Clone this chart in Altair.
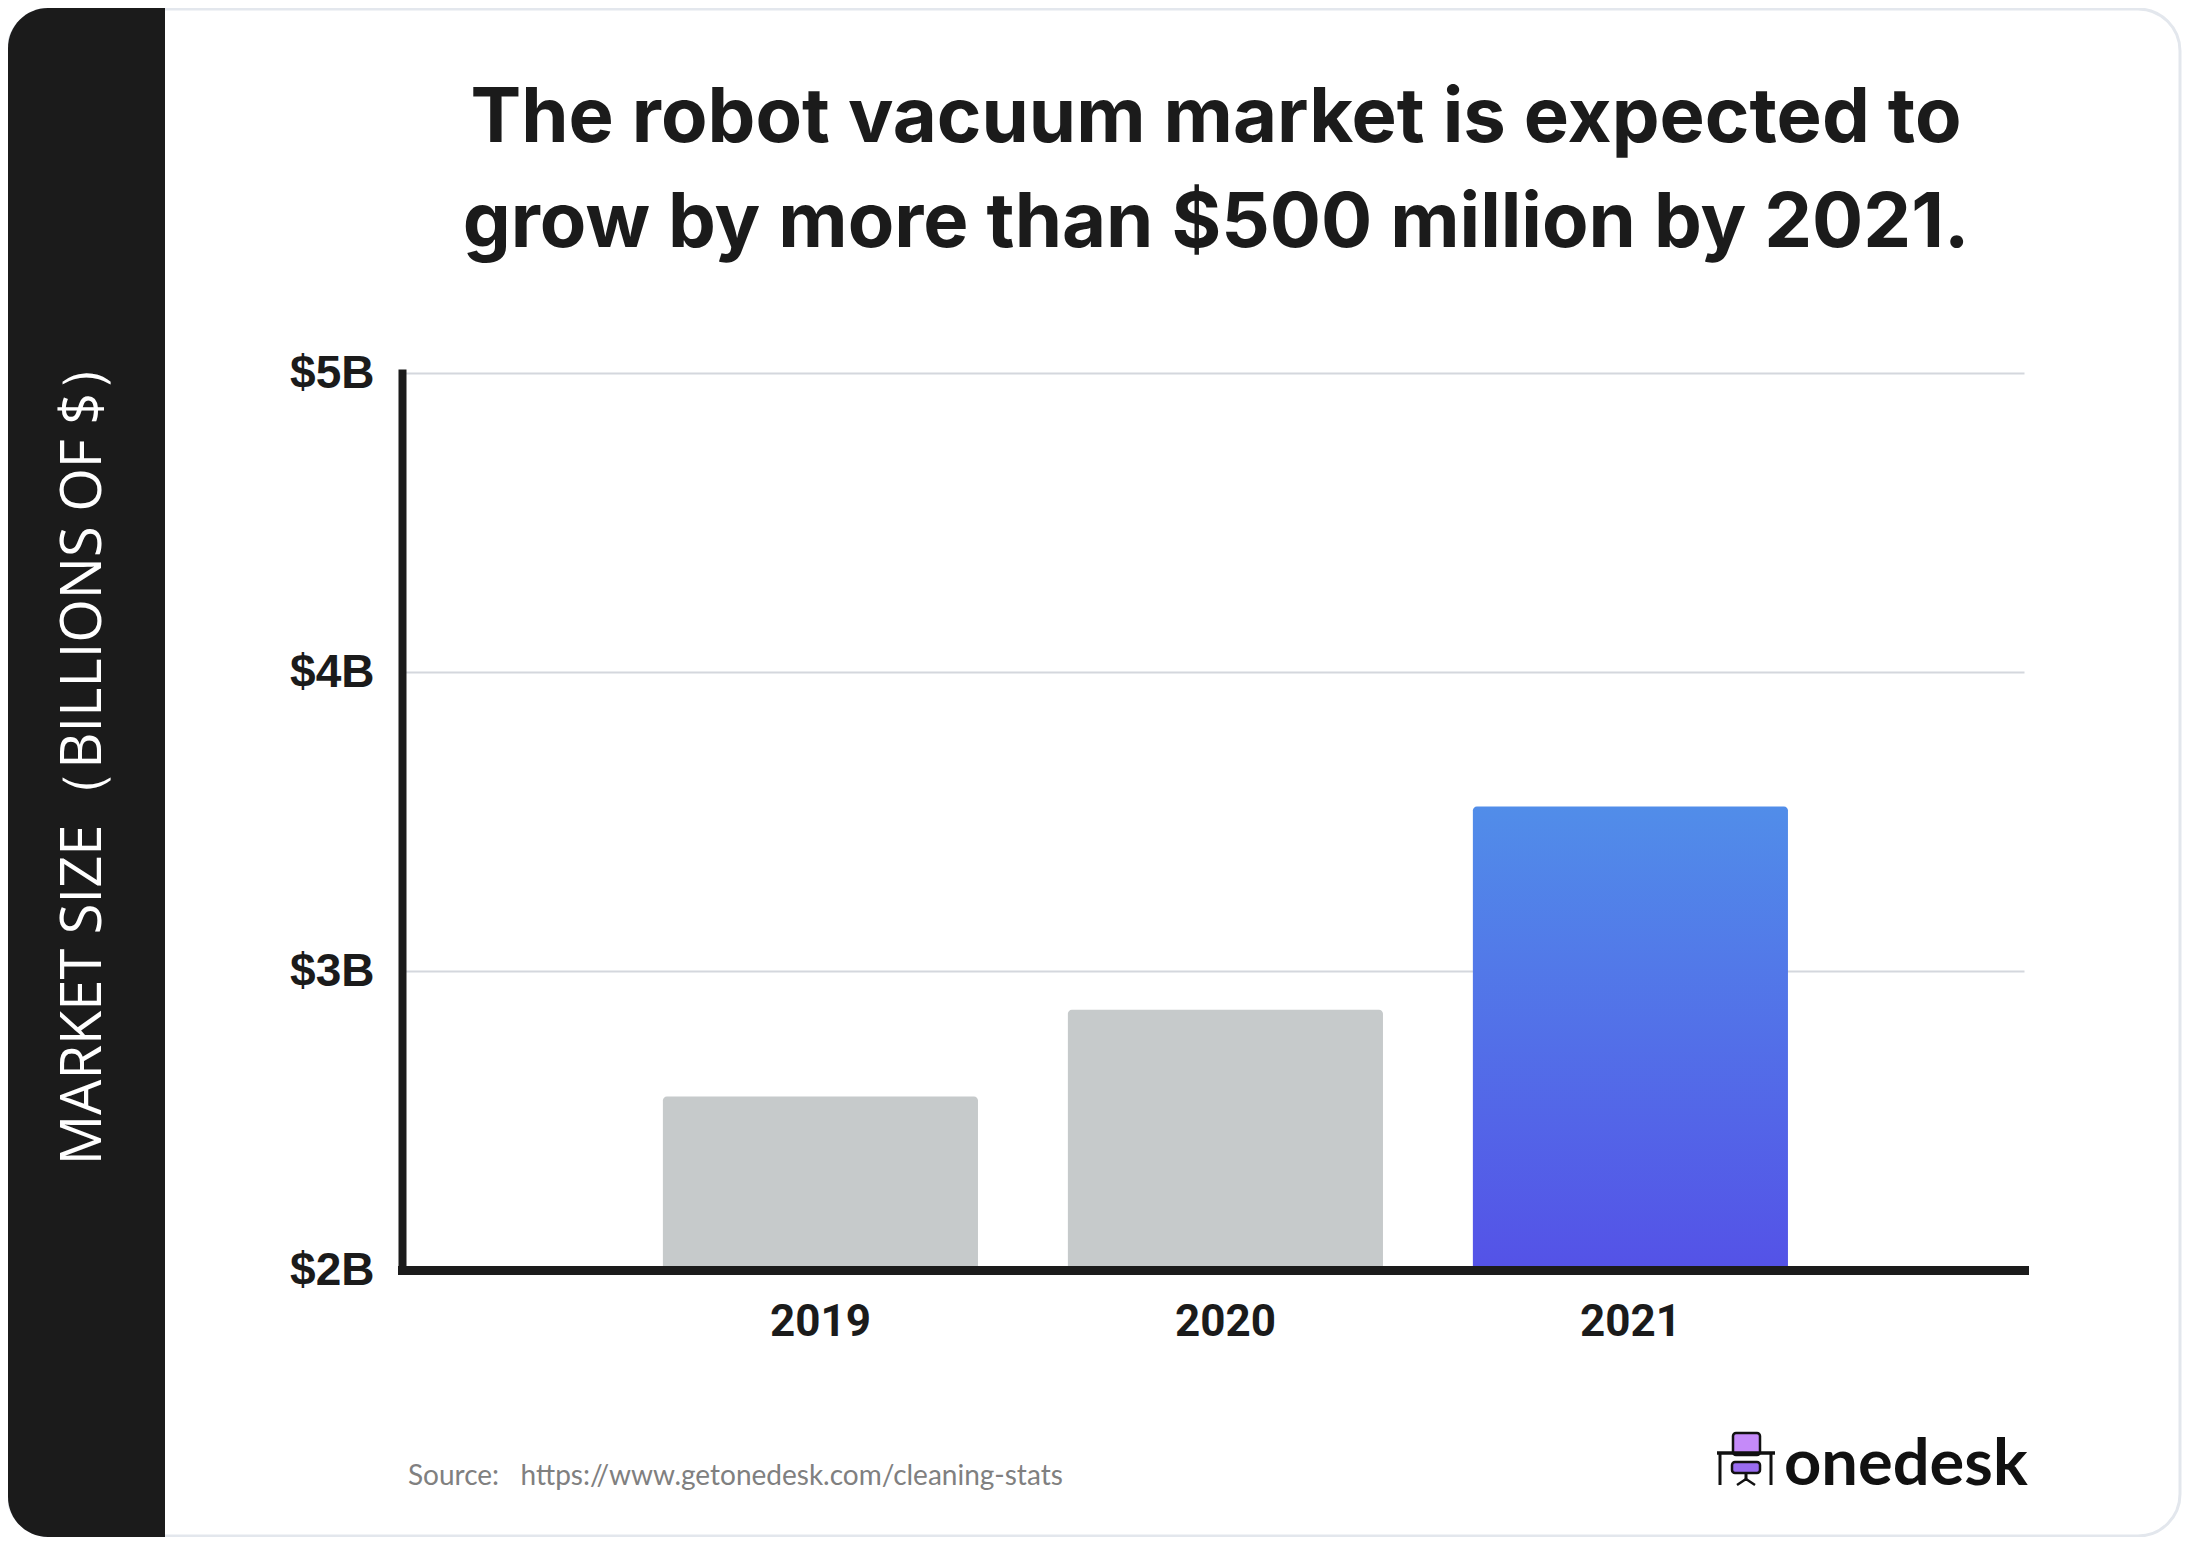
import altair as alt
import pandas as pd

# ---- data ----
years = ["2019", "2020", "2021"]
market_size = [2.58, 2.87, 3.55]
highlight = [False, False, True]
y_ticks = [2, 3, 4, 5]
title_lines = ["The robot vacuum market is expected to",
               "grow by more than $500 million by 2021."]
y_title = "MARKET SIZE（BILLIONS OF $）"
source_text = "Source:\u00a0\u00a0 https://www.getonedesk.com/cleaning-stats"
brand = "onedesk"

df = pd.DataFrame({"year": years, "size": market_size, "hl": highlight})
one = alt.Data(values=[{"k": 1}])

# ---- layout (view = plot area) ----
W, H = 1622, 897
PAD = {"left": 394, "top": 365, "right": 158, "bottom": 267}
DARK = "#1b1b1b"

x_enc = alt.X(
    "year:N", sort=years,
    scale=alt.Scale(paddingInner=0.222, paddingOuter=0.6135, align=0.525),
    axis=alt.Axis(title=None, labelAngle=0, labelFont="Roboto", labelFontWeight="bold",
                  labelFontSize=44, labelColor=DARK, labelPadding=30, ticks=False,
                  domainColor=DARK, domainWidth=9, domainCap="square", zindex=1, grid=False),
)
y_enc = alt.Y(
    "size:Q",
    scale=alt.Scale(domain=[2, 5], nice=False, zero=False),
    axis=alt.Axis(title=None, values=y_ticks, labelExpr="'$' + datum.value + 'B'",
                  labelFont="Liberation Sans", labelFontWeight="bold", labelFontSize=46,
                  labelColor=DARK, labelPadding=28, ticks=False, labelBaseline="middle",
                  domainColor=DARK, domainWidth=8, domainCap="square",
                  grid=True, gridColor="#d4d7dd", gridWidth=2, zindex=0),
)

base = alt.Chart(df).encode(x=x_enc, y=y_enc, y2=alt.datum(2))

gray_bars = base.transform_filter("!datum.hl").mark_bar(
    color="#c6cacb", cornerRadiusTopLeft=4, cornerRadiusTopRight=4)

grad = alt.Gradient(gradient="linear", x1=0, x2=0, y1=0, y2=1,
                    stops=[alt.GradientStop(color="#518de9", offset=0),
                           alt.GradientStop(color="#5452e7", offset=1)])
hl_bar = base.transform_filter("datum.hl").mark_bar(
    color=grad, cornerRadiusTopLeft=4, cornerRadiusTopRight=4)

# ---- decorations ----
border = alt.Chart(one).mark_rect(
    fill="#ffffff", fillOpacity=0, stroke="#e3e7ed", strokeWidth=3, cornerRadius=42).encode(
    x=alt.value(-394), x2=alt.value(1778), y=alt.value(-364), y2=alt.value(1163))

band = alt.Chart(one).mark_rect(
    color=DARK, cornerRadiusTopLeft=40, cornerRadiusBottomLeft=40).encode(
    x=alt.value(-394), x2=alt.value(-237), y=alt.value(-365), y2=alt.value(1164))

ytitle = alt.Chart(one).mark_text(
    text=y_title, angle=270, align="center", baseline="middle", color="white",
    font="Open Sans", fontSize=56).encode(x=alt.value(-318), y=alt.value(378))

title = alt.Chart(one).mark_text(
    text=title_lines, align="center", baseline="alphabetic", lineHeight=105,
    color=DARK, font="Inter", fontWeight=700, fontSize=76).encode(
    x=alt.value(814), y=alt.value(-231))

source = alt.Chart(one).mark_text(
    text=source_text, align="left", baseline="alphabetic", color="#808080",
    font="Lato", fontSize=28).encode(x=alt.value(6), y=alt.value(1112))

logo_text = alt.Chart(one).mark_text(
    text=brand, align="left", baseline="alphabetic", color="#111111",
    font="Lato", fontWeight="bold", fontSize=65).encode(x=alt.value(1382), y=alt.value(1112))

chair_back = alt.Chart(one).mark_rect(
    fill="#c58af9", stroke="#111111", strokeWidth=2.5, cornerRadius=3).encode(
    x=alt.value(1331), x2=alt.value(1358), y=alt.value(1060), y2=alt.value(1082))
desk_top = alt.Chart(one).mark_rule(color="#111111", strokeWidth=3.5).encode(
    x=alt.value(1315), x2=alt.value(1373), y=alt.value(1080))
leg_l = alt.Chart(one).mark_rule(color="#111111", strokeWidth=3).encode(
    x=alt.value(1318), y=alt.value(1080), y2=alt.value(1112))
leg_r = alt.Chart(one).mark_rule(color="#111111", strokeWidth=3).encode(
    x=alt.value(1369), y=alt.value(1080), y2=alt.value(1112))
seat = alt.Chart(one).mark_rect(
    fill="#9a6cf0", stroke="#111111", strokeWidth=2.5, cornerRadius=3).encode(
    x=alt.value(1330), x2=alt.value(1358), y=alt.value(1089), y2=alt.value(1100))
stem = alt.Chart(one).mark_rule(color="#111111", strokeWidth=3).encode(
    x=alt.value(1344), y=alt.value(1100), y2=alt.value(1108))
foot_l = alt.Chart(one).mark_rule(color="#111111", strokeWidth=2.5).encode(
    x=alt.value(1344), x2=alt.value(1335), y=alt.value(1106), y2=alt.value(1112))
foot_r = alt.Chart(one).mark_rule(color="#111111", strokeWidth=2.5).encode(
    x=alt.value(1344), x2=alt.value(1353), y=alt.value(1106), y2=alt.value(1112))

chart = alt.layer(
    border, band, gray_bars, hl_bar, ytitle, title, source,
    chair_back, desk_top, leg_l, leg_r, seat, stem, foot_l, foot_r, logo_text,
).properties(
    width=W, height=H, padding=PAD, autosize="none", background="white",
).configure_view(stroke=None)

chart.save("out.html", embed_options={"renderer": "svg", "actions": False})
